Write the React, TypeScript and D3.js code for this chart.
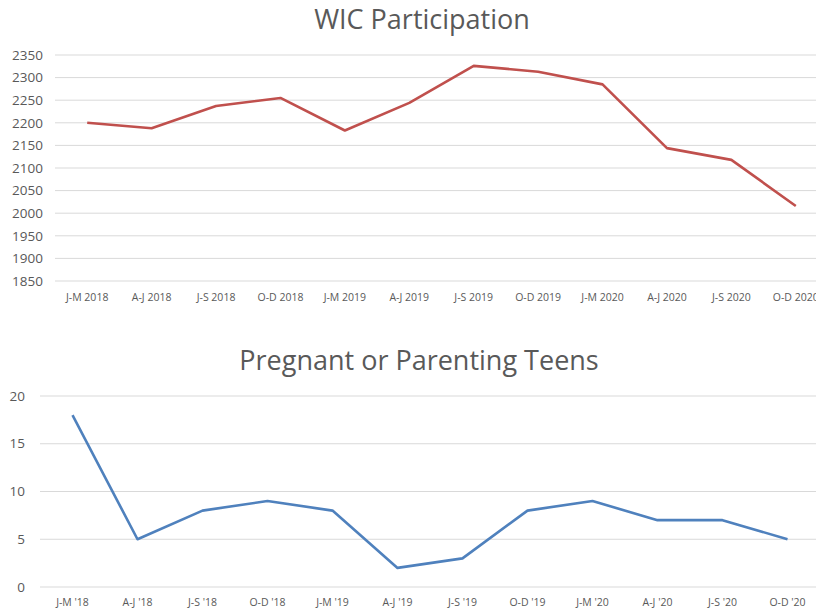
import React, { useRef, useEffect } from "react";
import * as d3 from "d3";

const wicQuarters = ["J-M 2018", "A-J 2018", "J-S 2018", "O-D 2018", "J-M 2019", "A-J 2019", "J-S 2019", "O-D 2019", "J-M 2020", "A-J 2020", "J-S 2020", "O-D 2020"];
const wicValues = [2200, 2188, 2237, 2255, 2183, 2244, 2326, 2313, 2285, 2144, 2118, 2016];
const wicTicks = [1850, 1900, 1950, 2000, 2050, 2100, 2150, 2200, 2250, 2300, 2350];

const teenQuarters = ["J-M '18", "A-J '18", "J-S '18", "O-D '18", "J-M '19", "A-J '19", "J-S '19", "O-D '19", "J-M '20", "A-J '20", "J-S '20", "O-D '20"];
const teenValues = [18, 5, 8, 9, 8, 2, 3, 8, 9, 7, 7, 5];
const teenTicks = [0, 5, 10, 15, 20];

const W = 816;
const H = 611;
const FONT = "'Open Sans', 'Liberation Sans', sans-serif";

const App = () => {
  const d3Ref = useRef(null);

  useEffect(() => {
    if (!d3Ref.current) return;
    d3.select(d3Ref.current).selectAll("*").remove();

    const svg = d3
      .select(d3Ref.current)
      .append("svg")
      .attr("width", W)
      .attr("height", H)
      .style("position", "absolute")
      .style("left", 0)
      .style("top", 0)
      .style("font-family", FONT);

    svg.append("rect").attr("width", W).attr("height", H).attr("fill", "#fff");

    // draws one excel-style line chart
    const drawChart = (opts) => {
      const { title, titleX, titleY, cats, values, ticks, left, right, top, bottom, labelX, xLabelY, color } = opts;

      const x = d3.scaleBand().domain(cats).range([left, right]);
      const y = d3.scaleLinear().domain([ticks[0], ticks[ticks.length - 1]]).range([bottom, top]);

      svg
        .append("text")
        .attr("x", titleX)
        .attr("y", titleY)
        .attr("text-anchor", "middle")
        .attr("fill", "#595959")
        .style("font-size", "27px")
        .text(title);

      const g = svg.append("g");

      g.selectAll(".grid")
        .data(ticks)
        .enter()
        .append("line")
        .attr("x1", left)
        .attr("x2", right)
        .attr("y1", (d) => y(d))
        .attr("y2", (d) => y(d))
        .attr("stroke", "#d9d9d9")
        .attr("stroke-width", 1);

      g.selectAll(".ylab")
        .data(ticks)
        .enter()
        .append("text")
        .attr("x", labelX)
        .attr("y", (d) => y(d))
        .attr("dy", "0.35em")
        .attr("text-anchor", "end")
        .attr("fill", "#595959")
        .style("font-size", "13.5px")
        .text((d) => d);

      g.selectAll(".xlab")
        .data(cats)
        .enter()
        .append("text")
        .attr("x", (d) => x(d) + x.bandwidth() / 2)
        .attr("y", xLabelY)
        .attr("dy", "0.35em")
        .attr("text-anchor", "middle")
        .attr("fill", "#595959")
        .style("font-size", "10.5px")
        .text((d) => d);

      const line = d3
        .line()
        .x((d, i) => x(cats[i]) + x.bandwidth() / 2)
        .y((d) => y(d));

      g.append("path")
        .datum(values)
        .attr("d", line)
        .attr("fill", "none")
        .attr("stroke", color)
        .attr("stroke-width", 2.6)
        .attr("stroke-linejoin", "round");
    };

    drawChart({
      title: "WIC Participation",
      titleX: 422,
      titleY: 29,
      cats: wicQuarters,
      values: wicValues,
      ticks: wicTicks,
      left: 55,
      right: 828,
      top: 55,
      bottom: 281,
      labelX: 43,
      xLabelY: 297,
      color: "#c0504d",
    });

    drawChart({
      title: "Pregnant or Parenting Teens",
      titleX: 419,
      titleY: 370,
      cats: teenQuarters,
      values: teenValues,
      ticks: teenTicks,
      left: 40,
      right: 820,
      top: 396,
      bottom: 587,
      labelX: 25,
      xLabelY: 602,
      color: "#4f81bd",
    });
  }, []);

  return <div ref={d3Ref} />;
};

export default App;
